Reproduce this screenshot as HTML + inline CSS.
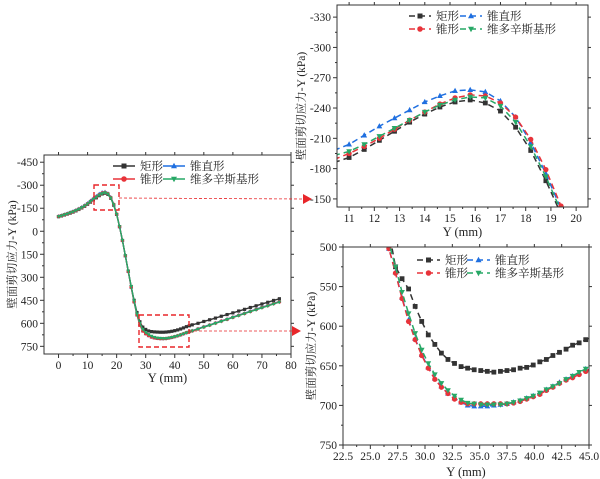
<!DOCTYPE html>
<html><head><meta charset="utf-8">
<style>
html,body{margin:0;padding:0;background:#fff;}
svg{display:block;}
text{font-family:"Liberation Serif","Noto Serif CJK SC",serif;fill:#222;}
</style></head>
<body>
<svg id="fig" width="600" height="479" viewBox="0 0 600 479" xmlns="http://www.w3.org/2000/svg">
<defs>
<clipPath id="clipA"><rect x="44" y="155" width="247" height="199"/></clipPath>
<clipPath id="clipB"><rect x="337" y="5" width="251" height="202"/></clipPath>
<clipPath id="clipC"><rect x="343" y="247" width="246" height="198"/></clipPath>
</defs>
</svg>
<script>
// ---------- Main chart data ----------
const mainX = [0,1,2,3,4,5,6,7,8,9,10,11,12,13,14,15,16,17,18,19,20,21,22,23,24,25,26,27,28,29,30,31,32,33,34,35,36,37,38,39,40,41,42,43,44,45,46,48,50,52,54,56,58,60,62,64,66,68,70,72,74,76];
const mainRect = [-95,-100,-106,-112,-118,-125,-133,-142,-152,-163,-176,-190,-205,-218,-232,-243,-248,-240,-215,-170,-110,-30,60,160,260,360,450,530,590,625,640,650,654,656,657,658,658,657,655,652,648,643,637,630,622,616,610,600,588,577,566,554,543,532,520,509,497,486,474,463,451,440];
const mainCone = [-97,-102,-108,-114,-121,-128,-136,-145,-155,-167,-180,-195,-210,-224,-238,-249,-253,-245,-220,-175,-112,-30,60,160,262,365,460,545,610,650,668,680,689,695,698,700,700,699,696,692,687,681,675,668,661,655,649,637,624,612,599,586,574,561,548,536,523,510,497,485,472,460];
const mainStraight = [-99,-104,-110,-117,-124,-131,-139,-148,-158,-170,-184,-200,-216,-230,-245,-255,-258,-248,-222,-176,-113,-30,60,160,262,365,460,545,610,650,668,681,690,696,699,700,700,699,696,692,687,681,675,668,661,654,648,635,622,610,597,584,572,559,546,534,521,508,495,483,470,458];
const mainWit = [-96,-101,-107,-113,-120,-127,-135,-144,-154,-166,-179,-194,-208,-222,-236,-246,-251,-243,-217,-172,-110,-30,60,160,260,360,455,540,600,640,660,673,684,691,696,698,699,699,696,692,687,682,676,669,662,656,650,638,625,613,600,588,575,562,550,537,524,512,499,487,474,462];
const mainXTicks = [0,10,20,30,40,50,60,70,80];
const mainYTicks = [-450,-300,-150,0,150,300,450,600,750];

// ---------- Zoom 1 data ----------
const z1X = [10.4,11,11.6,12.2,12.8,13.4,14,14.6,15.2,15.8,16.4,17,17.6,18.2,18.8,19.4,20];
const z1Rect = [-186,-191,-199,-208,-217,-226,-234,-241,-246,-248,-245,-237,-221,-198,-168,-135,-100];
const z1Cone = [-189,-195,-202,-210,-219,-228,-236,-244,-250,-253,-252,-245,-231,-209,-179,-143,-105];
const z1Straight = [-198,-204,-213,-222,-230,-238,-246,-252,-257,-258,-256,-247,-231,-206,-175,-140,-103];
const z1Wit = [-193,-197,-204,-212,-220,-228,-236,-243,-248,-251,-250,-242,-226,-202,-172,-138,-102];
const z1XTicks = [11,12,13,14,15,16,17,18,19,20];
const z1YTicks = [-330,-300,-270,-240,-210,-180,-150];

// ---------- Zoom 2 data ----------
const z2X = [26.1,26.7,27.3,27.9,28.5,29.1,29.7,30.3,30.9,31.5,32.1,32.7,33.3,33.9,34.5,35.1,35.7,36.3,36.9,37.5,38.1,38.7,39.3,39.9,40.5,41.1,41.7,42.3,42.9,43.5,44.1,44.7,45.3];
const z2Rect = [440,480,525,540,553,575,594,611,623,634,642,647,651,653,655,656,657,658,657,656,655,653,652,649,645,642,637,633,629,624,621,617,613];
const z2Cone = [470,502,533,565,594,617,637,653,667,677,685,692,696,698,698,698,698,698,698,698,697,695,692,689,686,681,677,672,668,665,661,657,652];
const z2Straight = [470,502,532,564,592,616,636,652,666,676,685,691,696,700,701,701,701,700,699,698,696,694,691,688,685,680,676,671,667,663,659,654,649];
const z2Wit = [465,495,525,557,584,609,630,647,661,672,681,688,693,697,698,699,699,699,699,698,696,694,691,688,684,680,676,672,667,663,658,654,649];
const z2XTicks = [22.5,25.0,27.5,30.0,32.5,35.0,37.5,40.0,42.5,45.0];
const z2YTicks = [500,550,600,650,700,750];

const seriesNames = ['矩形','锥直形','锥形','维多辛斯基形'];
const COL = {rect:'#333333', straight:'#1f6fe0', cone:'#e8333a', wit:'#27a866'};

const NS = 'http://www.w3.org/2000/svg';
const svg = document.getElementById('fig');
function mk(tag, attrs, parent){
  const e = document.createElementNS(NS, tag);
  for (const k in attrs) e.setAttribute(k, attrs[k]);
  (parent||svg).appendChild(e);
  return e;
}
function marker(g, shape, x, y, c, s){
  let e;
  if (shape==='sq') e = mk('rect',{x:x-s,y:y-s,width:2*s,height:2*s,fill:c},g);
  else if (shape==='ci') e = mk('circle',{cx:x,cy:y,r:s*1.1,fill:c},g);
  else if (shape==='up') e = mk('polygon',{points:`${x},${y-s*1.3} ${x-s*1.2},${y+s*0.9} ${x+s*1.2},${y+s*0.9}`,fill:c},g);
  else e = mk('polygon',{points:`${x},${y+s*1.3} ${x-s*1.2},${y-s*0.9} ${x+s*1.2},${y-s*0.9}`,fill:c},g);
  
  
}

function chart(cfg){
  const {L,T,R,B,xmin,xmax,ymin,ymax} = cfg;
  const sx = v => L + (v - xmin)/(xmax - xmin)*(R - L);
  const sy = v => T + (v - ymin)/(ymax - ymin)*(B - T);
  const g = mk('g',{});
  
  
  cfg.xTicks.forEach((t,i)=>{
    const x = sx(t);
    mk('line',{x1:x,y1:B,x2:x,y2:B+4,stroke:'#333','stroke-width':1},g);
    if (i < cfg.xTicks.length-1){ const xm = sx(t + (cfg.xTicks[1]-cfg.xTicks[0])/2); if (xm<=R) mk('line',{x1:xm,y1:B,x2:xm,y2:B+2,stroke:'#333'},g); }
    mk('line',{x1:x,y1:T,x2:x,y2:T-3,stroke:'#333'},g);
    const tx = mk('text',{x:x,y:B+15,'font-size':cfg.fs,'text-anchor':'middle'},g);
    tx.textContent = cfg.xFmt ? cfg.xFmt(t) : t;
    
    
  });
  cfg.yTicks.forEach((t,i)=>{
    const y = sy(t);
    mk('line',{x1:L,y1:y,x2:L-4,y2:y,stroke:'#333'},g);
    if (i < cfg.yTicks.length-1){ const ym = sy(t + (cfg.yTicks[1]-cfg.yTicks[0])/2); mk('line',{x1:L,y1:ym,x2:L-2,y2:ym,stroke:'#333'},g); }
    mk('line',{x1:R,y1:y,x2:R+3,y2:y,stroke:'#333'},g);
    const ty = mk('text',{x:L-6,y:y+4,'font-size':cfg.fs,'text-anchor':'end'},g);
    ty.textContent = t;
    
    
  });
  const pg = mk('g',{'clip-path':`url(#${cfg.clip})`},g);
  cfg.series.forEach(s=>{
    const d = cfg.xs.map((x,i)=>(i?'L':'M')+sx(x).toFixed(2)+','+sy(s.v[i]).toFixed(2)).join(' ');
    const p = mk('path',{d:d,fill:'none',stroke:s.c,'stroke-width':cfg.lw,'stroke-dasharray':cfg.dash},pg);
    
    
    cfg.xs.forEach((x,i)=>marker(pg,s.m,sx(x),sy(s.v[i]),s.c,cfg.ms));
  });
  const fr = mk('rect',{x:L,y:T,width:R-L,height:B-T,fill:'none',stroke:'#333','stroke-width':1},g);
  
  
  const xt = mk('text',{x:(L+R)/2,y:cfg.xTitleY,'font-size':cfg.fs+1,'text-anchor':'middle'},g);
  xt.textContent = 'Y (mm)';
  
  
  const yt = mk('text',{x:0,y:0,'font-size':cfg.fs,'text-anchor':'middle',transform:`translate(${cfg.yTitleX},${(T+B)/2}) rotate(-90)`,fill:'#444'},g);
  yt.textContent = '壁面剪切应力-Y (kPa)';
  
  
  const lg = mk('g',{},g);
  
  
  const [lx, ly, sw, col2] = cfg.legend;
  cfg.series.forEach((s,i)=>{
    const x0 = lx + (i%2)*col2, y0 = ly + Math.floor(i/2)*13;
    const ln = mk('line',{x1:x0,y1:y0,x2:x0+sw,y2:y0,stroke:s.c,'stroke-width':1.5,'stroke-dasharray':cfg.dash},lg);
    
    
    marker(lg,s.m,x0+sw/2,y0,s.c,2.5);
    const t = mk('text',{x:x0+sw+5,y:y0+4,'font-size':cfg.fs},lg);
    t.textContent = s.name;
    
    
  });
}

function mkSeries(r,st,c,w){
  return [
    {id:'rect',name:seriesNames[0],v:r,c:COL.rect,m:'sq'},
    {id:'cone-straight',name:seriesNames[1],v:st,c:COL.straight,m:'up'},
    {id:'cone',name:seriesNames[2],v:c,c:COL.cone,m:'ci'},
    {id:'witoszynski',name:seriesNames[3],v:w,c:COL.wit,m:'dn'}
  ];
}

chart({name:'main-chart',L:44,T:155,R:291,B:354,xmin:-5,xmax:80,ymin:-497,ymax:800,
  xs:mainX,series:mkSeries(mainRect,mainStraight,mainCone,mainWit),xTicks:mainXTicks,yTicks:mainYTicks,
  clip:'clipA',fs:11.5,lw:1.4,ms:1.6,dash:'none',xTitleY:382,yTitleX:16,legend:[113,166,22,50]});

chart({name:'zoom-peak-chart',L:337,T:5,R:588,B:207,xmin:10.52,xmax:20.47,ymin:-342,ymax:-142,
  xs:z1X,series:mkSeries(z1Rect,z1Straight,z1Cone,z1Wit),xTicks:z1XTicks,yTicks:z1YTicks,
  clip:'clipB',fs:11.5,lw:1.5,ms:2.4,dash:'6,4',xTitleY:236,yTitleX:305,legend:[409,16,22,51]});

chart({name:'zoom-trough-chart',L:343,T:247,R:589,B:445,xmin:22.5,xmax:45,ymin:500,ymax:750,
  xs:z2X,series:mkSeries(z2Rect,z2Straight,z2Cone,z2Wit),xTicks:z2XTicks,yTicks:z2YTicks,xFmt:v=>v.toFixed(1),
  clip:'clipC',fs:11.5,lw:1.5,ms:2.4,dash:'6,4',xTitleY:476,yTitleX:315,legend:[417,260,23,50]});

const ann = mk('g',{});


const b1 = mk('rect',{x:94,y:185,width:25,height:25,fill:'none',stroke:'#e8262a','stroke-width':1.4,'stroke-dasharray':'5,3'},ann);


const b2 = mk('rect',{x:139,y:315,width:50,height:32,fill:'none',stroke:'#e8262a','stroke-width':1.4,'stroke-dasharray':'5,3'},ann);


const a1 = mk('line',{x1:119,y1:198,x2:304,y2:199,stroke:'#e8262a','stroke-width':0.8,'stroke-dasharray':'3,2'},ann);


mk('polygon',{points:'303,194 312,199 303,204',fill:'#e8262a'},ann);
const a2 = mk('line',{x1:189,y1:331,x2:293,y2:331,stroke:'#e8262a','stroke-width':0.8,'stroke-dasharray':'3,2'},ann);


mk('polygon',{points:'292,326 301,331 292,336',fill:'#e8262a'},ann);
</script>
</body></html>
